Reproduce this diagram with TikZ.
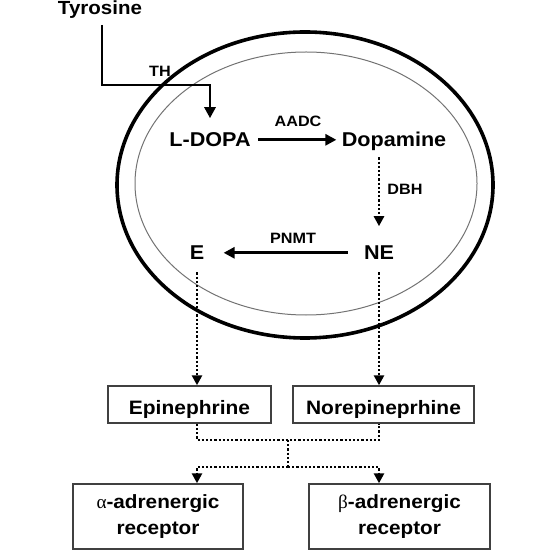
\documentclass[tikz,border=0pt]{standalone}
\usepackage{fontspec}
\setmainfont{Liberation Sans}[FakeStretch=1.08]
\newfontfamily\grk{Liberation Serif}
\usetikzlibrary{arrows.meta}
\begin{document}
\begin{tikzpicture}[x=0.5pt,y=-0.5pt,
  big/.style={font=\fontsize{10}{12}\selectfont\bfseries, inner sep=0pt, text height=7.2pt, text depth=0pt, anchor=base},
  tyro/.style={font=\fontsize{9.5}{11}\selectfont\bfseries, inner sep=0pt, anchor=base},
  enz/.style={font=\fontsize{7.5}{9}\selectfont\bfseries, inner sep=0pt, anchor=base},
  box/.style={draw=black!75, line width=0.7pt, font=\fontsize{9.7}{11}\selectfont\bfseries, inner sep=0pt, text height=9.5pt, text depth=0pt, minimum height=18.5pt},
  rbox/.style={draw=black!75, line width=0.7pt, font=\fontsize{9.6}{13.2}\selectfont\bfseries, align=center, inner sep=0pt, minimum height=32.5pt},
  arr/.style={line width=1.4pt, -{Triangle[length=5.5pt,width=5.5pt]}},
  dots/.style={line width=1.4pt, dash pattern=on 1.1pt off 1pt},
  darr/.style={dots, -{Triangle[length=5pt,width=5pt]}}]
\useasboundingbox (0,0) rectangle (550,550);

% cell membranes
\draw[line width=1.8pt] (305,185) ellipse [x radius=94pt, y radius=76.5pt];
\draw[line width=0.5pt, black!55] (306,183.5) ellipse [x radius=85.5pt, y radius=65.75pt];

% labels
\node[tyro] (tyr) at (100,15) {Tyrosine};
\node[big] (ldopa) at (210,147) {L-DOPA};
\node[big] (dopa) at (394,147) {Dopamine};
\node[big] (e) at (197,260) {E};
\node[big] (ne) at (379,260) {NE};

\node[enz] (th) at (160,77) {TH};
\node[enz] (aadc) at (298,127) {AADC};
\node[enz] (dbh) at (405,195) {DBH};
\node[enz] (pnmt) at (293,244) {PNMT};

% boxes
\node[box, minimum width=81.5pt] (epi) at (189.5,404.5) {Epinephrine};
\node[box, minimum width=90.5pt] (norepi) at (383.5,404.5) {Norepineprhine};
\node[rbox, minimum width=85pt] (alpha) at (158,516.5) {{\grk\mdseries α}-adrenergic\\receptor};
\node[rbox, minimum width=90.5pt] (beta) at (399.5,516.5) {{\grk\mdseries β}-adrenergic\\receptor};

% connectors
\coordinate (thc) at (102,85);
\draw[arr, shorten <=2.8pt] (tyr.south -| thc) -- (thc) -| ([yshift=7pt]ldopa.north);
\draw[arr, shorten <=3.5pt, shorten >=2.5pt] (ldopa.east) -- (ldopa.east -| dopa.west);
\draw[darr, shorten <=5pt, shorten >=9.5pt] (ne.north |- dopa.south) -- (ne.north);
\draw[arr, shorten <=8pt, shorten >=9.5pt] (ne.west) -- (ne.west -| e.east);
\draw[darr, shorten <=6pt] (e.south) -- (e.south |- epi.north);
\draw[darr, shorten <=6pt] (ne.south) -- (ne.south |- norepi.north);

\coordinate (j1) at (288,440);
\coordinate (j2) at (288,467);
\draw[dots] (e.south |- epi.south) |- (j1) -| (ne.south |- norepi.south);
\draw[dots] (j1) -- (j2);
\draw[darr] (j2) -| (e.south |- alpha.north);
\draw[darr] (j2) -| (ne.south |- beta.north);
\end{tikzpicture}
\end{document}
